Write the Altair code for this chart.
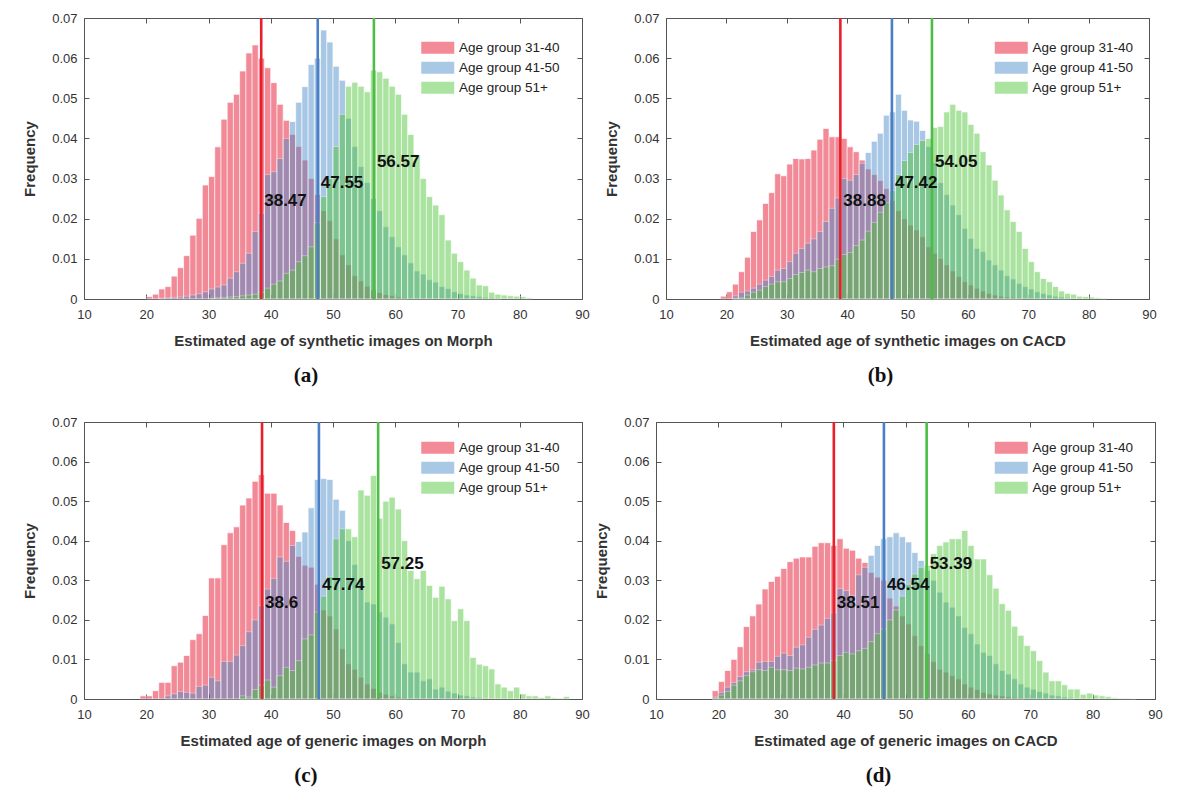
import altair as alt
import pandas as pd

GROUPS = ["Age group 31-40", "Age group 41-50", "Age group 51+"]
BAR_COLORS = ["#E50624", "#488ACA", "#4CC335"]
BAR_OPACITY = 0.47
LINE_COLORS = ["#E8202A", "#4A7FC8", "#4DBE45"]

X_TICKS = [10, 20, 30, 40, 50, 60, 70, 80, 90]
Y_TICKS = [0, 0.01, 0.02, 0.03, 0.04, 0.05, 0.06, 0.07]

# ---------------- panel (a): synthetic images on Morph ----------------
A_RED_START = 20
A_RED = [0.0006, 0.0012, 0.0025, 0.0031, 0.0057, 0.0078, 0.0108, 0.0159, 0.0201, 0.0284,
         0.0305, 0.0379, 0.0448, 0.0490, 0.0510, 0.0568, 0.0613, 0.0633, 0.0600, 0.0576,
         0.0539, 0.0485, 0.0445, 0.0410, 0.0380, 0.0346, 0.0300, 0.0260, 0.0220, 0.0195,
         0.0150, 0.0110, 0.0085, 0.0058, 0.0045, 0.0032, 0.0023, 0.0016, 0.0011, 0.0008,
         0.0005, 0.0003]
A_BLUE_START = 22
A_BLUE = [0.0002, 0.0003, 0.0004, 0.0005, 0.0007, 0.0010, 0.0013, 0.0018, 0.0025, 0.0030,
          0.0035, 0.0052, 0.0068, 0.0089, 0.0114, 0.0168, 0.0214, 0.0310, 0.0317, 0.0350,
          0.0400, 0.0442, 0.0490, 0.0529, 0.0584, 0.0600, 0.0670, 0.0640, 0.0580, 0.0545,
          0.0450, 0.0380, 0.0330, 0.0290, 0.0250, 0.0220, 0.0180, 0.0155, 0.0130, 0.0110,
          0.0090, 0.0070, 0.0062, 0.0048, 0.0042, 0.0031, 0.0026, 0.0018, 0.0014, 0.0010,
          0.0008, 0.0006, 0.0004, 0.0003, 0.0002]
A_GREEN_START = 30
A_GREEN = [0.0002, 0.0003, 0.0004, 0.0005, 0.0006, 0.0008, 0.0010, 0.0012, 0.0017, 0.0027,
           0.0037, 0.0045, 0.0064, 0.0072, 0.0093, 0.0108, 0.0130, 0.0190, 0.0255, 0.0300,
           0.0380, 0.0460, 0.0530, 0.0540, 0.0530, 0.0516, 0.0570, 0.0566, 0.0550, 0.0530,
           0.0510, 0.0460, 0.0410, 0.0360, 0.0300, 0.0255, 0.0234, 0.0210, 0.0147, 0.0114,
           0.0093, 0.0072, 0.0052, 0.0035, 0.0033, 0.0017, 0.0012, 0.0010, 0.0008, 0.0007,
           0.0006, 0.0003]
A_MEANS = [38.47, 47.55, 56.57]

# ---------------- panel (b): synthetic images on CACD ----------------
B_RED_START = 19
B_RED = [0.0007, 0.0018, 0.0037, 0.0068, 0.0104, 0.0168, 0.0197, 0.0238, 0.0265, 0.0312,
         0.0307, 0.0336, 0.0350, 0.0349, 0.0350, 0.0371, 0.0398, 0.0425, 0.0404, 0.0404,
         0.0400, 0.0379, 0.0367, 0.0346, 0.0324, 0.0310, 0.0295, 0.0275, 0.0245, 0.0220,
         0.0200, 0.0184, 0.0172, 0.0155, 0.0130, 0.0114, 0.0101, 0.0085, 0.0070, 0.0056,
         0.0043, 0.0035, 0.0027, 0.0020, 0.0014, 0.0010, 0.0007, 0.0005, 0.0003, 0.0002]
B_BLUE_START = 21
B_BLUE = [0.0008, 0.0017, 0.0020, 0.0027, 0.0037, 0.0047, 0.0056, 0.0072, 0.0076, 0.0093,
          0.0114, 0.0126, 0.0139, 0.0150, 0.0168, 0.0193, 0.0226, 0.0252, 0.0300, 0.0296,
          0.0310, 0.0338, 0.0365, 0.0393, 0.0413, 0.0458, 0.0466, 0.0510, 0.0470, 0.0446,
          0.0443, 0.0420, 0.0380, 0.0340, 0.0290, 0.0260, 0.0234, 0.0210, 0.0176, 0.0151,
          0.0126, 0.0118, 0.0097, 0.0085, 0.0072, 0.0058, 0.0050, 0.0039, 0.0031, 0.0025,
          0.0018, 0.0014, 0.0010, 0.0007, 0.0005, 0.0003]
B_GREEN_START = 21
B_GREEN = [0.0002, 0.0003, 0.0010, 0.0017, 0.0022, 0.0031, 0.0037, 0.0043, 0.0043, 0.0051,
           0.0061, 0.0066, 0.0072, 0.0068, 0.0076, 0.0080, 0.0083, 0.0099, 0.0111, 0.0116,
           0.0133, 0.0147, 0.0169, 0.0191, 0.0216, 0.0240, 0.0270, 0.0310, 0.0345, 0.0365,
           0.0385, 0.0395, 0.0400, 0.0427, 0.0430, 0.0466, 0.0485, 0.0470, 0.0466, 0.0435,
           0.0413, 0.0367, 0.0334, 0.0296, 0.0259, 0.0222, 0.0193, 0.0168, 0.0126, 0.0093,
           0.0068, 0.0051, 0.0043, 0.0031, 0.0020, 0.0014, 0.0012, 0.0007, 0.0006, 0.0005,
           0.0003, 0.0002]
B_MEANS = [38.88, 47.42, 54.05]

# ---------------- panel (c): generic images on Morph ----------------
C_RED_START = 19
C_RED = [0.0008, 0.0008, 0.0021, 0.0042, 0.0042, 0.0084, 0.0093, 0.0110, 0.0150, 0.0165,
         0.0211, 0.0306, 0.0306, 0.0390, 0.0420, 0.0435, 0.0490, 0.0508, 0.0550, 0.0567,
         0.0520, 0.0520, 0.0490, 0.0446, 0.0426, 0.0360, 0.0338, 0.0333, 0.0290, 0.0225,
         0.0210, 0.0177, 0.0127, 0.0089, 0.0075, 0.0055, 0.0038, 0.0027, 0.0017, 0.0012,
         0.0008, 0.0005, 0.0003]
C_BLUE_START = 23
C_BLUE = [0.0008, 0.0013, 0.0019, 0.0017, 0.0015, 0.0032, 0.0035, 0.0055, 0.0046, 0.0095,
          0.0095, 0.0111, 0.0135, 0.0170, 0.0200, 0.0236, 0.0278, 0.0305, 0.0359, 0.0348,
          0.0388, 0.0398, 0.0422, 0.0483, 0.0555, 0.0557, 0.0555, 0.0505, 0.0477, 0.0400,
          0.0340, 0.0300, 0.0245, 0.0240, 0.0220, 0.0207, 0.0190, 0.0143, 0.0089, 0.0068,
          0.0068, 0.0046, 0.0051, 0.0025, 0.0030, 0.0020, 0.0015, 0.0010, 0.0008, 0.0005,
          0.0003]
C_GREEN_START = 35
C_GREEN = [0.0008, 0.0005, 0.0024, 0.0035, 0.0048, 0.0030, 0.0059, 0.0080, 0.0072, 0.0097,
           0.0152, 0.0162, 0.0220, 0.0260, 0.0310, 0.0405, 0.0430, 0.0430, 0.0410, 0.0528,
           0.0515, 0.0565, 0.0457, 0.0500, 0.0510, 0.0480, 0.0400, 0.0325, 0.0304, 0.0325,
           0.0287, 0.0257, 0.0285, 0.0253, 0.0198, 0.0228, 0.0198, 0.0105, 0.0088, 0.0084,
           0.0076, 0.0038, 0.0030, 0.0021, 0.0030, 0.0013, 0.0008, 0.0008, 0.0004, 0.0008,
           0.0003, 0.0002, 0.0006]
C_MEANS = [38.6, 47.74, 57.25]

# ---------------- panel (d): generic images on CACD ----------------
D_RED_START = 19
D_RED = [0.0021, 0.0044, 0.0072, 0.0100, 0.0132, 0.0183, 0.0210, 0.0240, 0.0278, 0.0297,
         0.0310, 0.0330, 0.0347, 0.0356, 0.0359, 0.0359, 0.0386, 0.0395, 0.0395, 0.0388,
         0.0405, 0.0381, 0.0376, 0.0356, 0.0345, 0.0320, 0.0308, 0.0300, 0.0255, 0.0235,
         0.0210, 0.0190, 0.0160, 0.0135, 0.0115, 0.0095, 0.0075, 0.0068, 0.0059, 0.0051,
         0.0038, 0.0030, 0.0024, 0.0017, 0.0013, 0.0010, 0.0008, 0.0006, 0.0004, 0.0003]
D_BLUE_START = 19
D_BLUE = [0.0005, 0.0017, 0.0030, 0.0042, 0.0057, 0.0069, 0.0074, 0.0093, 0.0095, 0.0095,
          0.0108, 0.0116, 0.0110, 0.0131, 0.0137, 0.0156, 0.0176, 0.0187, 0.0204, 0.0218,
          0.0279, 0.0274, 0.0262, 0.0314, 0.0333, 0.0363, 0.0388, 0.0405, 0.0410, 0.0420,
          0.0410, 0.0397, 0.0370, 0.0350, 0.0325, 0.0300, 0.0270, 0.0245, 0.0232, 0.0210,
          0.0181, 0.0165, 0.0139, 0.0118, 0.0110, 0.0089, 0.0072, 0.0063, 0.0051, 0.0038,
          0.0030, 0.0025, 0.0019, 0.0015, 0.0010, 0.0008, 0.0005, 0.0003]
D_GREEN_START = 19
D_GREEN = [0.0003, 0.0010, 0.0019, 0.0035, 0.0046, 0.0059, 0.0069, 0.0074, 0.0072, 0.0080,
           0.0074, 0.0074, 0.0072, 0.0078, 0.0076, 0.0080, 0.0086, 0.0091, 0.0091, 0.0097,
           0.0110, 0.0118, 0.0114, 0.0122, 0.0128, 0.0145, 0.0165, 0.0177, 0.0200, 0.0225,
           0.0260, 0.0290, 0.0316, 0.0333, 0.0338, 0.0367, 0.0388, 0.0397, 0.0405, 0.0405,
           0.0426, 0.0388, 0.0354, 0.0354, 0.0314, 0.0280, 0.0241, 0.0224, 0.0184, 0.0161,
           0.0135, 0.0122, 0.0097, 0.0068, 0.0046, 0.0046, 0.0036, 0.0025, 0.0025, 0.0012,
           0.0015, 0.0010, 0.0008, 0.0006, 0.0003, 0.0002, 0.0002, 0.0001]
D_MEANS = [38.51, 46.54, 53.39]

X_TITLES = ["Estimated age of synthetic images on Morph",
            "Estimated age of synthetic images on CACD",
            "Estimated age of generic images on Morph",
            "Estimated age of generic images on CACD"]
CAPTIONS = ["(a)", "(b)", "(c)", "(d)"]

# layout constants (not data)
LABEL_Y = [0.0243, 0.0288, 0.0341]
FONT = "Liberation Sans"


def make_panel(series, means, xtitle, caption, w, h, legend_dx, legend_y):
    rows = []
    for gi, (start, vals) in enumerate(series):
        for i, v in enumerate(vals):
            rows.append({"group": GROUPS[gi], "x0": start + i, "x1": start + i + 1, "freq": v})
    df = pd.DataFrame(rows)
    mdf = pd.DataFrame({"group": GROUPS, "mean": means,
                        "label": [f"{m:g}" for m in means], "ly": LABEL_Y})
    xs = alt.Scale(domain=[10, 90], nice=False, zero=False)
    ys = alt.Scale(domain=[0, 0.07], nice=False, zero=True)

    legend = alt.Legend(title=None, orient="none", legendX=w - legend_dx, legendY=legend_y,
                        padding=0,
                        symbolType="M-2.75,-1H2.75V1H-2.75Z", symbolSize=144,
                        symbolOpacity=BAR_OPACITY, symbolStrokeWidth=0,
                        labelFont=FONT, labelFontSize=13.5, labelColor="#222",
                        labelOffset=14.5, rowPadding=5)

    bars = alt.Chart(df).mark_bar(opacity=BAR_OPACITY, stroke="white", strokeWidth=0.7).encode(
        x=alt.X("x0:Q", scale=xs, title=xtitle,
                axis=alt.Axis(values=X_TICKS, offset=-5, tickSize=5, domain=False, grid=False,
                              labelFlush=False, labelPadding=9, titlePadding=12)),
        x2="x1:Q",
        y=alt.Y("freq:Q", stack=None, scale=ys, title="Frequency",
                axis=alt.Axis(values=Y_TICKS, format=".2~f", offset=-5, tickSize=5,
                              domain=False, grid=False, labelFlush=False,
                              labelPadding=7, titlePadding=14)),
        y2=alt.datum(0),
        color=alt.Color("group:N", scale=alt.Scale(domain=GROUPS, range=BAR_COLORS),
                        legend=legend),
    )
    rules = alt.Chart(mdf).mark_rule(strokeWidth=2.6).encode(
        x=alt.X("mean:Q", scale=xs, axis=None),
        stroke=alt.Stroke("group:N", scale=alt.Scale(domain=GROUPS, range=LINE_COLORS),
                          legend=None),
    )
    texts = alt.Chart(mdf).mark_text(align="left", baseline="middle", dx=3, font=FONT,
                                     fontSize=17, fontWeight="bold", color="#111").encode(
        x=alt.X("mean:Q", scale=xs, axis=None),
        y=alt.Y("ly:Q", scale=ys, axis=None),
        text="label:N",
    )
    frame = alt.Chart(mdf).mark_point(opacity=0).encode(
        x=alt.X("mean:Q", scale=xs,
                axis=alt.Axis(orient="top", values=X_TICKS, offset=-5, tickSize=5,
                              labels=False, domain=False, grid=False, title=None,
                              minExtent=0, maxExtent=0)),
        y=alt.Y("ly:Q", scale=ys,
                axis=alt.Axis(orient="right", values=Y_TICKS, offset=-5, tickSize=5,
                              labels=False, domain=False, grid=False, title=None,
                              minExtent=0, maxExtent=0)),
    )
    return alt.layer(bars, rules, texts, frame).resolve_axis(
        x="independent", y="independent"
    ).properties(
        width=w, height=h,
        title=alt.TitleParams(caption, orient="bottom", anchor="middle", frame="bounds",
                              font="Liberation Serif", fontSize=21, fontWeight="bold",
                              color="#111", offset=17),
    )


pa = make_panel([(A_RED_START, A_RED), (A_BLUE_START, A_BLUE), (A_GREEN_START, A_GREEN)],
                A_MEANS, X_TITLES[0], CAPTIONS[0], 498, 281, 151, 23)
pb = make_panel([(B_RED_START, B_RED), (B_BLUE_START, B_BLUE), (B_GREEN_START, B_GREEN)],
                B_MEANS, X_TITLES[1], CAPTIONS[1], 483, 281, 144.5, 23)
pc = make_panel([(C_RED_START, C_RED), (C_BLUE_START, C_BLUE), (C_GREEN_START, C_GREEN)],
                C_MEANS, X_TITLES[2], CAPTIONS[2], 498, 277, 151, 19)
pd_ = make_panel([(D_RED_START, D_RED), (D_BLUE_START, D_BLUE), (D_GREEN_START, D_GREEN)],
                 D_MEANS, X_TITLES[3], CAPTIONS[3], 499, 277, 150.5, 19)

row1 = alt.hconcat(pa, pb, spacing=14).resolve_scale(color="independent", stroke="independent")
row2 = alt.hconcat(pc, pd_, spacing=4).resolve_scale(color="independent", stroke="independent")

chart = alt.vconcat(row1, row2, spacing=28).resolve_scale(
    color="independent", stroke="independent"
).properties(
    padding={"left": 14, "top": 3, "right": 5, "bottom": 5},
    background="white",
).configure_view(
    stroke="#555", strokeWidth=1
).configure_axis(
    labelFont=FONT, labelFontSize=13, labelColor="#333",
    titleFont=FONT, titleFontSize=15, titleColor="#333", titleFontWeight="bold",
    tickColor="#555", tickWidth=1,
)

chart.save("out.html", embed_options={"renderer": "svg", "actions": False})
